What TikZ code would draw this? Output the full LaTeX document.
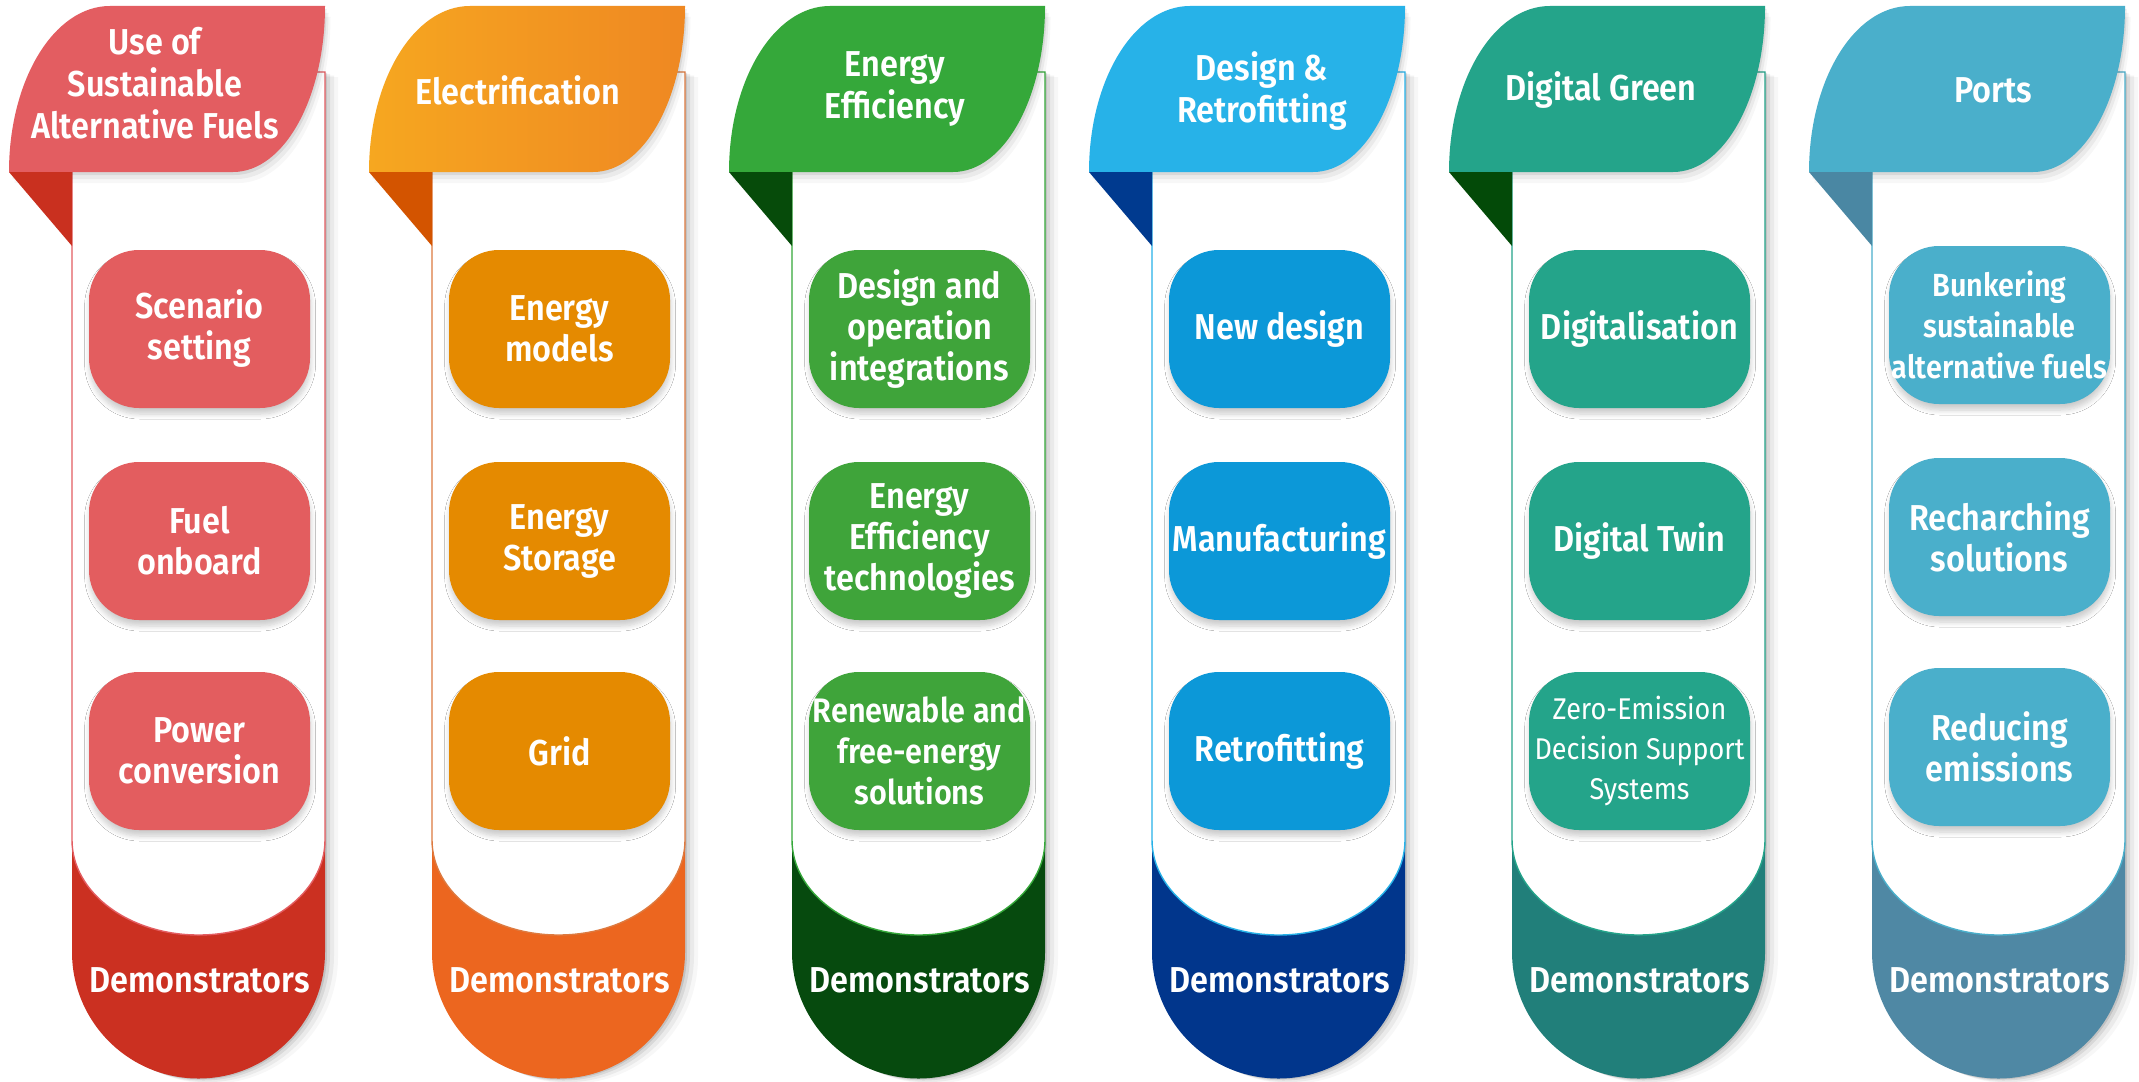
\documentclass[tikz,border=0pt]{standalone}
\usepackage{fontspec}
\setmainfont{Fira Sans}[BoldFont={Fira Sans SemiBold}, FakeStretch=0.9]
\usetikzlibrary{shadows.blur}
\definecolor{aLeaf}{HTML}{E35D61}\definecolor{aFold}{HTML}{C9301F}\definecolor{aBox}{HTML}{E35D5F}\definecolor{aBot}{HTML}{CB3021}
\definecolor{bLeafL}{HTML}{F6A720}\definecolor{bLeafR}{HTML}{EF8822}\definecolor{bFold}{HTML}{D35400}\definecolor{bBox}{HTML}{E58A00}\definecolor{bBot}{HTML}{EC661F}\definecolor{bBrd}{HTML}{DD7A40}
\definecolor{cLeaf}{HTML}{35A83A}\definecolor{cFold}{HTML}{064B0A}\definecolor{cBox}{HTML}{3FA43A}\definecolor{cBot}{HTML}{064A0E}
\definecolor{dLeaf}{HTML}{27B2E8}\definecolor{dFold}{HTML}{003A8F}\definecolor{dBox}{HTML}{0C98D8}\definecolor{dBot}{HTML}{01368C}
\definecolor{eLeaf}{HTML}{24A48A}\definecolor{eFold}{HTML}{034A08}\definecolor{eBox}{HTML}{24A48A}\definecolor{eBot}{HTML}{217F7A}
\definecolor{fLeaf}{HTML}{4AAFCB}\definecolor{fFold}{HTML}{4A87A3}\definecolor{fBox}{HTML}{4AAFCB}\definecolor{fBot}{HTML}{4F88A4}
\tikzset{
  boxbase/.style={rounded corners=25pt, minimum width=110.5pt, minimum height=79pt,
    inner sep=0pt, align=center, text=white,
    font=\bfseries\fontsize{18}{20.5}\selectfont,
    blur shadow={shadow xshift=0.3pt, shadow yshift=-3pt, shadow blur radius=2.5pt,
      shadow blur steps=8, shadow opacity=20}},
  headtext/.style={text=white, align=center, inner sep=0pt,
    font=\bfseries\fontsize{18}{21}\selectfont},
  demotext/.style={text=white, inner sep=0pt,
    font=\bfseries\fontsize{18}{20.5}\selectfont},
}
\newcommand{\pillarshape}{(72,72) -- (325,72) -- (325,952) .. controls (325,1021.9) and (268.4,1078.5) .. (198.5,1078.5) .. controls (128.6,1078.5) and (72,1021.9) .. (72,952) -- cycle}
\newcommand{\leafshape}{(9,172) .. controls (9,80) and (54,6) .. (110,6) -- (325,6) .. controls (325,98) and (284,172) .. (233,172) -- cycle}
\newcommand{\pillar}[5]{%
\begin{scope}[shift={(#1,0)}]
  \foreach \s/\o in {2/0.10,5/0.07,9/0.05,13/0.03}{
    \fill[black, opacity=\o, shift={(\s,0.4*\s)}] \pillarshape;
  }
  \fill[#4] (72,820) -- (325,820) -- (325,952) .. controls (325,1021.9) and (268.4,1078.5) .. (198.5,1078.5) .. controls (128.6,1078.5) and (72,1021.9) .. (72,952) -- cycle;
  \filldraw[fill=white, draw=#5, line width=0.7pt] (72,72) -- (325,72) -- (325,840) .. controls (325,892.5) and (268.4,935) .. (198.5,935) .. controls (128.6,935) and (72,892.5) .. (72,840) -- cycle;
  \foreach \s/\o in {3/0.07,7/0.05,11/0.03}{
    \fill[black, opacity=\o, shift={(0.5*\s,\s)}] \leafshape;
  }
  \path[#2] \leafshape;
  \fill[#3] (9,172) -- (72,172) -- (72,246) -- cycle;
\end{scope}}
\begin{document}
\begin{tikzpicture}[x=0.5pt,y=-0.5pt]
\fill[white] (0,0) rectangle (2139,1081);
\useasboundingbox (0,0) rectangle (2139,1081);

\pillar{0}{fill=aLeaf}{aFold}{aBot}{aLeaf}
\pillar{360}{left color=bLeafL,right color=bLeafR}{bFold}{bBot}{bBrd}
\pillar{720}{fill=cLeaf}{cFold}{cBot}{cLeaf}
\pillar{1080}{fill=dLeaf}{dFold}{dBot}{dLeaf}
\pillar{1440}{fill=eLeaf}{eFold}{eBot}{eLeaf}
\pillar{1800}{fill=fLeaf}{fFold}{fBot}{fLeaf}

% titles
\node[headtext] (t1) at (155,83) {Use of\\Sustainable\\Alternative Fuels};
\node[headtext] (t2) at (518,90) {Electrification};
\node[headtext] (t3) at (895,89) {Energy\\Efficiency};
\node[headtext] (t4) at (1262,91) {Design \&\\Retrofitting};
\node[headtext] (t5) at (1601,90) {Digital Green};
\node[headtext] (t6) at (1993,90) {Ports};

% column 1
\node[boxbase, fill=aBox] (b11) at (199.5,329) {Scenario\\setting};
\node[boxbase, fill=aBox] (b12) at (199.5,541) {Fuel\\onboard};
\node[boxbase, fill=aBox] (b13) at (199.5,751) {Power\\conversion};
% column 2
\node[boxbase, fill=bBox] (b21) at (559.5,329) {Energy\\models};
\node[boxbase, fill=bBox] (b22) at (559.5,541) {Energy\\Storage};
\node[boxbase, fill=bBox] (b23) at (559.5,751) {Grid};
% column 3
\node[boxbase, fill=cBox] (b31) at (919.5,329) {Design and\\operation\\integrations};
\node[boxbase, fill=cBox] (b32) at (919.5,541) {Energy\\Efficiency\\technologies};
\node[boxbase, fill=cBox, font=\bfseries\fontsize{17}{20.5}\selectfont] (b33) at (919.5,751) {Renewable and\\free-energy\\solutions};
% column 4
\node[boxbase, fill=dBox] (b41) at (1279.5,329) {New design};
\node[boxbase, fill=dBox] (b42) at (1279.5,541) {Manufacturing};
\node[boxbase, fill=dBox] (b43) at (1279.5,751) {Retrofitting};
% column 5
\node[boxbase, fill=eBox] (b51) at (1639.5,329) {Digitalisation};
\node[boxbase, fill=eBox] (b52) at (1639.5,541) {Digital Twin};
\node[boxbase, fill=eBox, font=\mdseries\fontsize{15}{20}\selectfont] (b53) at (1639.5,751) {Zero-Emission\\Decision Support\\Systems};
% column 6
\node[boxbase, fill=fBox, font=\bfseries\fontsize{16}{20.5}\selectfont] (b61) at (1999.5,325) {Bunkering\\sustainable\\alternative fuels};
\node[boxbase, fill=fBox] (b62) at (1999.5,537) {Recharching\\solutions};
\node[boxbase, fill=fBox] (b63) at (1999.5,747) {Reducing\\emissions};

% demonstrators
\foreach \k in {0,...,5}{
  \node[demotext] (d\k) at (199.5+360*\k,980) {Demonstrators};
}
\end{tikzpicture}
\end{document}
